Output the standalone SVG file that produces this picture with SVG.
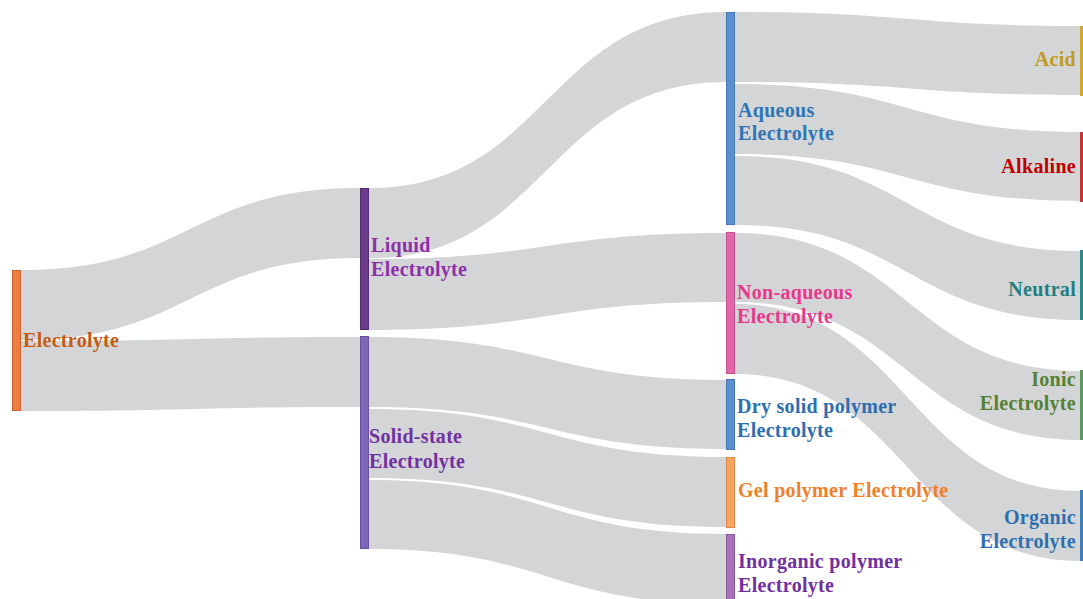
<svg xmlns="http://www.w3.org/2000/svg" width="1083" height="599" viewBox="0 0 1083 599">
<style>
.link{fill:#d4d5d7;stroke:none}
.bar{stroke-width:1}
text{font-family:"Liberation Serif","Times New Roman",serif;font-weight:bold;font-size:20px;letter-spacing:0.3px}
.r{text-anchor:end}
</style>
<rect width="1083" height="599" fill="#ffffff"/>
<g id="links">
<path class="link" d="M21 270 C190 270 190 188 360 188 L360 258 C190 258 190 340 21 340 Z"/>
<path class="link" d="M21 341 C190 341 190 337 360 337 L360 407 C190 407 190 411 21 411 Z"/>
<path class="link" d="M369 188 C547 188 547 12 726 12 L726 82 C547 82 547 258 369 258 Z"/>
<path class="link" d="M369 259 C547 259 547 233 726 233 L726 302 C547 302 547 330 369 330 Z"/>
<path class="link" d="M369 337 C547 337 547 380 726 380 L726 449 C547 449 547 407 369 407 Z"/>
<path class="link" d="M369 409 C547 409 547 457 726 457 L726 527 C547 527 547 478 369 478 Z"/>
<path class="link" d="M369 480 C547 480 547 534 726 534 L726 604 C547 604 547 549 369 549 Z"/>
<path class="link" d="M735 12 C908 12 908 26 1081 26 L1081 95 C908 95 908 82 735 82 Z"/>
<path class="link" d="M735 84 C908 84 908 132 1081 132 L1081 201 C908 201 908 154 735 154 Z"/>
<path class="link" d="M735 156 C908 156 908 251 1081 251 L1081 320 C908 320 908 225 735 225 Z"/>
<path class="link" d="M735 233 C908 233 908 371 1081 371 L1081 440 C908 440 908 302 735 302 Z"/>
<path class="link" d="M735 304 C908 304 908 491 1081 491 L1081 561 C908 561 908 374 735 374 Z"/>
</g>
<g id="n-electrolyte">
<rect class="bar" x="12.5" y="270.5" width="8" height="140" fill="#ed7d43" stroke="#c8612b"/>
<text x="23" y="347" fill="#c55a11">Electrolyte</text>
</g>
<g id="n-liquid">
<rect class="bar" x="360.5" y="188.5" width="8" height="141" fill="#6c3d8c" stroke="#55296f"/>
<text x="371" y="252" fill="#8e2fa8">Liquid</text>
<text x="371" y="276" fill="#8e2fa8">Electrolyte</text>
</g>
<g id="n-solid">
<rect class="bar" x="360.5" y="336.5" width="8" height="212" fill="#7e67b6" stroke="#6650a0"/>
<text x="369" y="443" fill="#7030a0">Solid-state</text>
<text x="369" y="468" fill="#7030a0">Electrolyte</text>
</g>
<g id="n-aqueous">
<rect class="bar" x="726.5" y="12.5" width="8" height="212" fill="#5b8fd0" stroke="#4677b8"/>
<text x="738" y="117" fill="#2e75b6">Aqueous</text>
<text x="738" y="140" fill="#2e75b6">Electrolyte</text>
</g>
<g id="n-nonaqueous">
<rect class="bar" x="726.5" y="232.5" width="8" height="141" fill="#e066a8" stroke="#c84f90"/>
<text x="737" y="299" fill="#e8388c">Non-aqueous</text>
<text x="737" y="323" fill="#e8388c">Electrolyte</text>
</g>
<g id="n-dry">
<rect class="bar" x="726.5" y="379.5" width="8" height="70" fill="#5b8fd0" stroke="#4677b8"/>
<text x="737" y="413" fill="#2e6eb0">Dry solid polymer</text>
<text x="737" y="437" fill="#2e6eb0">Electrolyte</text>
</g>
<g id="n-gel">
<rect class="bar" x="726.5" y="457.5" width="8" height="70" fill="#f5a462" stroke="#e08a45"/>
<text x="738" y="497" fill="#f07f2a">Gel polymer Electrolyte</text>
</g>
<g id="n-inorganic">
<rect class="bar" x="726.5" y="534.5" width="8" height="70" fill="#a672b8" stroke="#8c5aa0"/>
<text x="738" y="568" fill="#7030a0">Inorganic polymer</text>
<text x="738" y="592" fill="#7030a0">Electrolyte</text>
</g>
<g id="n-acid">
<rect x="1080" y="26" width="3" height="70" fill="#d4a82a"/>
<text class="r" x="1076" y="66" fill="#c09a20">Acid</text>
</g>
<g id="n-alkaline">
<rect x="1080" y="132" width="3" height="70" fill="#d03030"/>
<text class="r" x="1076" y="173" fill="#c00000">Alkaline</text>
</g>
<g id="n-neutral">
<rect x="1080" y="250" width="3" height="70" fill="#2a8a8a"/>
<text class="r" x="1076" y="296" fill="#1f7f80">Neutral</text>
</g>
<g id="n-ionic">
<rect x="1080" y="370" width="3" height="70" fill="#5a9a5a"/>
<text class="r" x="1076" y="386" fill="#548235">Ionic</text>
<text class="r" x="1076" y="410" fill="#548235">Electrolyte</text>
</g>
<g id="n-organic">
<rect x="1080" y="490" width="3" height="71" fill="#3a80c0"/>
<text class="r" x="1076" y="524" fill="#2e70b0">Organic</text>
<text class="r" x="1076" y="548" fill="#2e70b0">Electrolyte</text>
</g>
</svg>
